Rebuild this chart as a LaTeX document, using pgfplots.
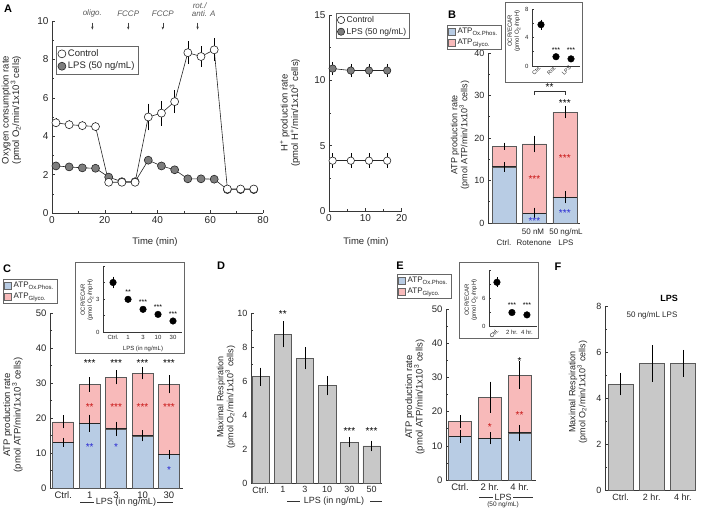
\documentclass[border=0pt]{standalone}
\usepackage{fontspec}
\setmainfont{Liberation Sans}
\usepackage{pgfplots}
\pgfplotsset{compat=1.18}
\usetikzlibrary{arrows.meta}
\definecolor{cblue}{RGB}{184,204,228}
\definecolor{cpink}{RGB}{248,186,186}
\definecolor{cgray}{RGB}{200,200,200}
\definecolor{sred}{RGB}{200,20,20}
\definecolor{sblue}{RGB}{40,40,210}
\definecolor{ldark}{RGB}{55,55,55}
\definecolor{mgray}{RGB}{125,125,125}
\newcommand{\fs}[1]{\fontsize{#1}{#1}\selectfont}
\pgfplotsset{
  base/.style={scale only axis, anchor=south west, clip=false,
    axis x line*=bottom, axis y line*=left,
    axis line style={ldark, line width=0.7pt},
    tick style={ldark, line width=0.5pt},
    tick align=inside, major tick length=3pt, minor tick length=2pt,
    ticklabel style={font=\fs{9}, text=black!85},
    /pgf/number format/assume math mode=true},
  bars/.style={ybar, bar shift=0pt, bar width=#1, draw=black!65, line width=0.6pt, forget plot},
  errs/.style={draw=none, mark=none, forget plot,
    error bars/.cd, y dir=both, y explicit,
    error bar style={draw=black, solid, line width=0.5pt},
    error mark options={draw=black, solid, line width=0.5pt, mark size=#1}},
  errs/.default=2pt,
}
\begin{document}
\begin{tikzpicture}
\path[use as bounding box] (0,0) rectangle (709pt,510pt);

% ================= Panel A =================
\begin{axis}[base, at={(52pt,297pt)}, width=211pt, height=192pt,
  xmin=0, xmax=80, ymin=0, ymax=10,
  xtick={0,20,...,80}, minor x tick num=1,
  ytick={0,2,...,10}, minor y tick num=1,
  ticklabel style={font=\fs{10}},
  legend style={at={(0.02,0.87)}, anchor=north west, draw=black!60, font=\fs{9.5}, inner sep=1.5pt, row sep=0pt, legend cell align=left, text=black!85}]
\addlegendimage{only marks, mark=*, mark size=4pt, mark options={fill=white, draw=black!85, line width=0.6pt}}
\addlegendentry{Control}
\addlegendimage{only marks, mark=*, mark size=4pt, mark options={fill=mgray, draw=black!85, line width=0.6pt}}
\addlegendentry{LPS (50 ng/mL)}
\addplot[black!85, line width=0.6pt, mark=*, mark size=4pt, mark options={fill=mgray}, forget plot] coordinates {
(1.5,2.45)(6.5,2.4)(11.5,2.35)(16.5,2.33)(21.5,1.87)(26.5,1.63)(31.5,1.63)(36.5,2.75)(41.5,2.45)(46.5,2.25)(51.5,1.78)(56.5,1.78)(61.5,1.76)(66.5,1.22)(71.5,1.22)(76.5,1.22)};
\addplot[black!85, line width=0.6pt, mark=*, mark size=4pt, mark options={fill=white}, forget plot] coordinates {
(1.5,4.7)(6.5,4.6)(11.5,4.55)(16.5,4.5)(21.5,1.6)(26.5,1.6)(31.5,1.6)(36.5,5.0)(41.5,5.2)(46.5,5.8)(51.5,8.35)(56.5,8.15)(61.5,8.5)(66.5,1.25)(71.5,1.25)(76.5,1.25)};
\addplot[errs=1.8pt] coordinates {
(1.5,2.45)+-(0,0.12)(6.5,2.4)+-(0,0.1)(11.5,2.35)+-(0,0.1)(16.5,2.33)+-(0,0.1)(21.5,1.87)+-(0,0.1)(36.5,2.75)+-(0,0.12)(41.5,2.45)+-(0,0.12)(46.5,2.25)+-(0,0.1)(51.5,1.78)+-(0,0.1)(56.5,1.78)+-(0,0.1)(61.5,1.76)+-(0,0.1)};
\addplot[errs=1.8pt] coordinates {
(1.5,4.7)+-(0,0.15)(6.5,4.6)+-(0,0.15)(11.5,4.55)+-(0,0.15)(16.5,4.5)+-(0,0.15)(21.5,1.6)+-(0,0.1)(26.5,1.6)+-(0,0.08)(31.5,1.6)+-(0,0.08)(36.5,5.0)+-(0,0.6)(41.5,5.2)+-(0,0.55)(46.5,5.8)+-(0,0.5)(51.5,8.35)+-(0,0.5)(56.5,8.15)+-(0,0.45)(61.5,8.5)+-(0,0.5)(66.5,1.25)+-(0,0.1)(71.5,1.25)+-(0,0.1)(76.5,1.25)+-(0,0.1)};
\draw[black!75, line width=0.5pt, -{Stealth[length=3pt,width=2.4pt]}] (axis cs:15.3,9.92) -- (axis cs:15.3,9.55);
\draw[black!75, line width=0.5pt, -{Stealth[length=3pt,width=2.4pt]}] (axis cs:28.9,9.92) -- (axis cs:28.9,9.55);
\draw[black!75, line width=0.5pt, -{Stealth[length=3pt,width=2.4pt]}] (axis cs:42,9.92) -- (axis cs:42,9.55);
\draw[black!75, line width=0.5pt, -{Stealth[length=3pt,width=2.4pt]}] (axis cs:55.2,9.92) -- (axis cs:55.2,9.55);
\node[font=\itshape\fs{8}, text=black!65] at (axis cs:15.3,10.38) {oligo.};
\node[font=\itshape\fs{8}, text=black!65] at (axis cs:28.9,10.38) {FCCP};
\node[font=\itshape\fs{8}, text=black!65] at (axis cs:42,10.38) {FCCP};
\node[font=\itshape\fs{8}, text=black!65] at (axis cs:57.5,10.38) {anti. A};
\node[font=\itshape\fs{8}, text=black!65] at (axis cs:56,10.78) {rot./};
\end{axis}

% ================= Panel A right: H+ =================
\begin{axis}[base, at={(329pt,299pt)}, width=72.7pt, height=196pt,
  xmin=0, xmax=20, ymin=0, ymax=15,
  xtick={0,10,20}, minor x tick num=1,
  ytick={0,5,10,15}, minor y tick num=1,
  ticklabel style={font=\fs{10}},
  legend style={at={(0.1,1.01)}, anchor=north west, draw=black!60, font=\fs{8.5}, inner sep=1pt, row sep=0pt, legend cell align=left, text=black!85}]
\addlegendimage{only marks, mark=*, mark size=3.6pt, mark options={fill=white, draw=black!85, line width=0.6pt}}
\addlegendentry{Control}
\addlegendimage{only marks, mark=*, mark size=3.6pt, mark options={fill=mgray, draw=black!85, line width=0.6pt}}
\addlegendentry{LPS (50 ng/mL)}
\addplot[black!85, line width=0.6pt, mark=*, mark size=3.7pt, mark options={fill=mgray}, forget plot] coordinates {(1,10.9)(6,10.75)(11,10.75)(16,10.75)};
\addplot[black!85, line width=0.6pt, mark=*, mark size=3.7pt, mark options={fill=white}, forget plot] coordinates {(1,3.85)(6,3.85)(11,3.85)(16,3.85)};
\addplot[errs=2pt] coordinates {(1,10.9)+-(0,0.35)(6,10.75)+-(0,0.35)(11,10.75)+-(0,0.35)(16,10.75)+-(0,0.35)};
\addplot[errs=2pt] coordinates {(1,3.85)+-(0,0.4)(6,3.85)+-(0,0.4)(11,3.85)+-(0,0.4)(16,3.85)+-(0,0.4)};
\end{axis}

% ================= Panel B =================
\begin{axis}[base, at={(488pt,287pt)}, width=92pt, height=170pt,
  xmin=-0.527, xmax=2.5, ymin=0, ymax=40,
  xtick=\empty, ytick={0,10,...,40}, minor y tick num=1,
  legend style={at={(-0.446,1.165)}, anchor=north west, draw=black!60, font=\fs{8}, inner sep=1pt, row sep=0pt, legend cell align=left, text=black!85},
  legend image code/.code={\draw[#1] (0pt,-3.5pt) rectangle (7pt,3.5pt);}]
\addlegendimage{fill=cblue, draw=black!60}
\addlegendentry{ATP\textsubscript{Ox.Phos.}}
\addlegendimage{fill=cpink, draw=black!60}
\addlegendentry{ATP\textsubscript{Glyco.}}
\addplot[bars=24pt, fill=cpink] coordinates {(0,18.1)(1,18.6)(2,26.1)};
\addplot[bars=24pt, fill=cblue] coordinates {(0,13.2)(1,2.35)(2,6.1)};
\draw[black!85, line width=1pt] (axis cs:-0.39,13.2) -- (axis cs:0.39,13.2) (axis cs:0.61,2.35) -- (axis cs:1.39,2.35) (axis cs:1.61,6.1) -- (axis cs:2.39,6.1);
\addplot[errs] coordinates {(0,18.1)+-(0,0.35)(1,18.6)+-(0,1.5)(2,26.1)+-(0,1.0)(0,13.2)+-(0,0.7)(1,2.35)+-(0,0.8)(2,6.1)+-(0,1.0)};
\node[font=\fs{10}, text=sred] at (axis cs:1,10.4) {***};
\node[font=\fs{10}, text=sred] at (axis cs:2,15.3) {***};
\node[font=\fs{10}, text=sblue] at (axis cs:1,0.5) {***};
\node[font=\fs{10}, text=sblue] at (axis cs:2,2.4) {***};
\node[font=\fs{10}] at (axis cs:2,28.3) {***};
\draw[black!80, line width=0.5pt] (axis cs:1,30.1) -- (axis cs:1,31) -- (axis cs:2,31) -- (axis cs:2,30.1);
\node[font=\fs{10}] at (axis cs:1.5,32.0) {**};
\end{axis}

% ---- inset B
\draw[black!60, line width=0.8pt, fill=white] (505pt,508pt) rectangle (582pt,428pt);
\begin{axis}[base, at={(532pt,444pt)}, width=48pt, height=57pt,
  xmin=-0.6, xmax=2.6, ymin=0, ymax=8,
  ytick={0,4,8}, minor y tick num=1,
  xtick={0,1,2}, xticklabels={Ctrl.,Rot.,LPS}, xtick style={draw=none},
  ticklabel style={font=\fs{6}}, xticklabel style={font=\fs{5.5}, rotate=45, anchor=east, inner sep=1pt},
  major tick length=2pt, minor tick length=1.5pt]
\addplot[black, only marks, mark=*, mark size=3.3pt, forget plot] coordinates {(0,5.8)(1,1.3)(2,1.0)};
\addplot[errs=1.5pt] coordinates {(0,5.8)+-(0,0.5)(1,1.3)+-(0,0.2)(2,1.0)+-(0,0.2)};
\node[font=\fs{7}] at (axis cs:1,2.2) {***};
\node[font=\fs{7}] at (axis cs:2,2.2) {***};
\end{axis}

% ================= Panel C =================
\begin{axis}[base, at={(50pt,22pt)}, width=133pt, height=175pt,
  xmin=-0.5, xmax=4.53, ymin=0, ymax=50,
  xtick={0,...,4}, xticklabels={Ctrl.,1,3,10,30}, xtick style={draw=none},
  ytick={0,10,...,50}, minor y tick num=1,
  ticklabel style={font=\fs{9.5}},
  legend style={at={(-0.353,1.194)}, anchor=north west, draw=black!60, font=\fs{8}, inner sep=1pt, row sep=0pt, legend cell align=left, text=black!85},
  legend image code/.code={\draw[#1] (0pt,-3.5pt) rectangle (7pt,3.5pt);}]
\addlegendimage{fill=cblue, draw=black!60}
\addlegendentry{ATP\textsubscript{Ox.Phos.}}
\addlegendimage{fill=cpink, draw=black!60}
\addlegendentry{ATP\textsubscript{Glyco.}}
\addplot[bars=21pt, fill=cpink] coordinates {(0,18.9)(1,29.6)(2,31.6)(3,32.8)(4,29.6)};
\addplot[bars=21pt, fill=cblue] coordinates {(0,13.05)(1,18.5)(2,16.9)(3,14.9)(4,9.6)};
\draw[black!85, line width=1pt] (axis cs:-0.4,13.05) -- (axis cs:0.4,13.05) (axis cs:0.6,18.5) -- (axis cs:1.4,18.5) (axis cs:1.6,16.9) -- (axis cs:2.4,16.9) (axis cs:2.6,14.9) -- (axis cs:3.4,14.9) (axis cs:3.6,9.6) -- (axis cs:4.4,9.6);
\addplot[errs] coordinates {(0,18.9)+-(0,1.3)(1,29.6)+-(0,1.5)(2,31.6)+-(0,1.4)(3,32.8)+-(0,1.2)(4,29.6)+-(0,2.0)
 (0,13.05)+-(0,0.7)(1,18.5)+-(0,1.9)(2,16.9)+-(0,1.5)(3,14.9)+-(0,1.0)(4,9.6)+-(0,0.7)};
\node[font=\fs{10}] at (axis cs:1,35.6) {***};
\node[font=\fs{10}] at (axis cs:2,35.6) {***};
\node[font=\fs{10}] at (axis cs:3,35.6) {***};
\node[font=\fs{10}] at (axis cs:4,35.6) {***};
\node[font=\fs{10}, text=sred] at (axis cs:1,23.0) {**};
\node[font=\fs{10}, text=sred] at (axis cs:2,23.0) {***};
\node[font=\fs{10}, text=sred] at (axis cs:3,23.0) {***};
\node[font=\fs{10}, text=sred] at (axis cs:4,23.0) {***};
\node[font=\fs{10}, text=sblue] at (axis cs:1,11.6) {**};
\node[font=\fs{10}, text=sblue] at (axis cs:2,11.6) {*};
\node[font=\fs{10}, text=sblue] at (axis cs:4,5.0) {*};
\end{axis}

% ---- inset C
\draw[black!60, line width=0.8pt, fill=white] (75pt,248pt) rectangle (184pt,157pt);
\begin{axis}[base, at={(103pt,178pt)}, width=79pt, height=66pt,
  xmin=-0.67, xmax=4.6, ymin=0, ymax=6,
  ytick={0,3,6}, yticklabels={0,3,{}}, minor y tick num=1,
  xtick={0,...,4}, xticklabels={Ctrl.,1,3,10,30}, xtick style={draw=none},
  ticklabel style={font=\fs{6}},
  major tick length=2pt, minor tick length=1.5pt]
\addplot[black, only marks, mark=*, mark size=3.3pt, forget plot] coordinates {(0,4.5)(1,2.97)(2,2.06)(3,1.6)(4,1.0)};
\addplot[errs=1.5pt] coordinates {(0,4.5)+-(0,0.4)};
\node[font=\fs{7}] at (axis cs:1,3.6) {**};
\node[font=\fs{7}] at (axis cs:2,2.7) {***};
\node[font=\fs{7}] at (axis cs:3,2.25) {***};
\node[font=\fs{7}] at (axis cs:4,1.65) {***};
\end{axis}

% ================= Panel D =================
\begin{axis}[base, at={(251pt,27pt)}, width=131pt, height=170pt,
  xmin=-0.43, xmax=5.47, ymin=0, ymax=10,
  xtick={0,...,5}, xticklabels={Ctrl.,1,3,10,30,50}, xtick style={draw=none},
  ytick={0,2,...,10}, minor y tick num=1,
  ticklabel style={font=\fs{9}}]
\addplot[bars=17.5pt, fill=cgray] coordinates {(0,6.25)(1,8.75)(2,7.33)(3,5.73)(4,2.4)(5,2.18)};
\addplot[errs] coordinates {(0,6.25)+-(0,0.42)(1,8.75)+-(0,0.65)(2,7.33)+-(0,0.53)(3,5.73)+-(0,0.46)(4,2.4)+-(0,0.19)(5,2.18)+-(0,0.2)};
\node[font=\fs{10}] at (axis cs:1,9.95) {**};
\node[font=\fs{10}] at (axis cs:4,3.05) {***};
\node[font=\fs{10}] at (axis cs:5,3.05) {***};
\end{axis}

% ================= Panel E =================
\begin{axis}[base, at={(446pt,30pt)}, width=89.7pt, height=171pt,
  xmin=-0.47, xmax=2.54, ymin=0, ymax=50,
  xtick={0,1,2}, xticklabels={Ctrl.,2 hr.,4 hr.}, xtick style={draw=none},
  ytick={0,10,...,50}, minor y tick num=1,
  ticklabel style={font=\fs{9.5}},
  legend style={at={(-0.546,1.205)}, anchor=north west, draw=black!60, font=\fs{8}, inner sep=1pt, row sep=0pt, legend cell align=left, text=black!85},
  legend image code/.code={\draw[#1] (0pt,-3.5pt) rectangle (7pt,3.5pt);}]
\addlegendimage{fill=cblue, draw=black!60}
\addlegendentry{ATP\textsubscript{Ox.Phos.}}
\addlegendimage{fill=cpink, draw=black!60}
\addlegendentry{ATP\textsubscript{Glyco.}}
\addplot[bars=23pt, fill=cpink] coordinates {(0,17.1)(1,24.2)(2,30.7)};
\addplot[bars=23pt, fill=cblue] coordinates {(0,12.7)(1,12.2)(2,13.8)};
\draw[black!85, line width=1pt] (axis cs:-0.38,12.7) -- (axis cs:0.38,12.7) (axis cs:0.62,12.2) -- (axis cs:1.38,12.2) (axis cs:1.62,13.8) -- (axis cs:2.38,13.8);
\addplot[errs] coordinates {(0,17.1)+-(0,1.3)(1,24.2)+-(0,4.0)(2,30.7)+-(0,3.4)(0,12.7)+-(0,1.2)(1,12.2)+-(0,1.2)(2,13.8)+-(0,1.7)};
\node[font=\fs{10}] at (axis cs:2,34.8) {*};
\node[font=\fs{10}, text=sred] at (axis cs:1,15.4) {*};
\node[font=\fs{10}, text=sred] at (axis cs:2,19.1) {**};
\end{axis}

% ---- inset E
\draw[black!60, line width=0.8pt, fill=white] (459pt,248pt) rectangle (538pt,172pt);
\begin{axis}[base, at={(489pt,183.3pt)}, width=48pt, height=56.7pt,
  xmin=-0.53, xmax=2.67, ymin=0, ymax=12,
  ytick={0,6,12}, yticklabels={0,6,{}}, minor y tick num=1,
  xtick={0,1,2}, xticklabels={{},2 hr.,4 hr.}, xtick style={draw=none},
  ticklabel style={font=\fs{6}},
  major tick length=2pt, minor tick length=1.5pt]
\addplot[black, only marks, mark=*, mark size=3.3pt, forget plot] coordinates {(0,9.4)(1,3.0)(2,2.5)};
\addplot[errs=1.5pt] coordinates {(0,9.4)+-(0,0.7)};
\node[font=\fs{7}] at (axis cs:1,4.6) {***};
\node[font=\fs{7}] at (axis cs:2,4.6) {***};
\node[font=\fs{5.5}, rotate=45, anchor=east, inner sep=1pt] at (axis cs:0.1,-0.5) {Ctrl.};
\end{axis}

% ================= Panel F =================
\begin{axis}[base, at={(605pt,20pt)}, width=91pt, height=184pt,
  xmin=-0.5, xmax=2.42, ymin=0, ymax=8,
  xtick={0,1,2}, xticklabels={Ctrl.,2 hr.,4 hr.}, xtick style={draw=none},
  ytick={0,2,...,8}, minor y tick num=1,
  ticklabel style={font=\fs{9}}]
\addplot[bars=24.5pt, fill=cgray] coordinates {(0,4.6)(1,5.5)(2,5.5)};
\addplot[errs] coordinates {(0,4.6)+-(0,0.4)(1,5.5)+-(0,0.7)(2,5.5)+-(0,0.5)};
\end{axis}

% ================= Labels =================
\begin{scope}[every node/.style={text=black!85}]
\node[font=\bfseries\fs{11}, text=black] at (8pt,501pt) {A};
\node[font=\bfseries\fs{11}, text=black] at (452pt,495pt) {B};
\node[font=\bfseries\fs{11}, text=black] at (7pt,241pt) {C};
\node[font=\bfseries\fs{11}, text=black] at (221pt,244pt) {D};
\node[font=\bfseries\fs{11}, text=black] at (400pt,244pt) {E};
\node[font=\bfseries\fs{11}, text=black] at (558pt,243pt) {F};

\node[rotate=90, align=center, font=\fontsize{9.5}{10.5}\selectfont] at (11.5pt,400pt) {Oxygen consumption rate\\(pmol O\textsubscript{2}/min/1x10\textsuperscript{3} cells)};
\node[font=\fs{9.5}] at (155pt,268pt) {Time (min)};

\node[rotate=90, align=center, font=\fontsize{9.5}{10.5}\selectfont] at (290pt,397pt) {H\textsuperscript{+} production rate\\(pmol H\textsuperscript{+}/min/1x10\textsuperscript{3} cells)};
\node[font=\fs{9.5}] at (366pt,268pt) {Time (min)};

\node[rotate=90, align=center, font=\fontsize{9}{10}\selectfont] at (460pt,375pt) {ATP production rate\\(pmol ATP/min/1x10\textsuperscript{3} cells)};
\node[font=\fs{8}] at (504pt,267pt) {Ctrl.};
\node[font=\fs{8}] at (533pt,278pt) {50 nM};
\node[font=\fs{8}] at (534pt,267pt) {Rotenone};
\node[font=\fs{8}] at (566pt,278pt) {50 ng/mL};
\node[font=\fs{8}] at (566pt,267pt) {LPS};
\node[rotate=90, align=center, font=\fontsize{6}{7}\selectfont] at (514pt,479pt) {OCR/ECAR\\(pmol O\textsubscript{2}/mpH)};

\node[rotate=90, align=center, font=\fontsize{9.5}{10.5}\selectfont] at (13pt,95pt) {ATP production rate\\(pmol ATP/min/1x10\textsuperscript{3} cells)};
\node[font=\fs{9}] (cl) at (126pt,8pt) {LPS (in ng/mL)};
\draw[black!80, line width=0.5pt] (80pt,8pt) -- (94pt,8pt) (157pt,8pt) -- (173pt,8pt);
\node[rotate=90, align=center, font=\fontsize{6}{7}\selectfont] at (87pt,210pt) {OCR/ECAR\\(pmol O\textsubscript{2}/mpH)};
\node[font=\fs{6}] at (143pt,161pt) {LPS (in ng/mL)};

\node[rotate=90, align=center, font=\fontsize{9}{10}\selectfont] at (226pt,113pt) {Maximal Respiration\\(pmol O\textsubscript{2}/min/1x10\textsuperscript{3} cells)};
\node[font=\fs{9}] at (334pt,9pt) {LPS (in ng/mL)};
\draw[black!80, line width=0.5pt] (287pt,9pt) -- (300pt,9pt) (370pt,9pt) -- (382pt,9pt);

\node[rotate=90, align=center, font=\fontsize{9.5}{10.5}\selectfont] at (415pt,113pt) {ATP production rate\\(pmol ATP/min/1x10\textsuperscript{3} cells)};
\node[font=\fs{9}] at (503pt,13pt) {LPS};
\draw[black!80, line width=0.5pt] (479pt,13pt) -- (493pt,13pt) (513pt,13pt) -- (533pt,13pt);
\node[font=\fs{6.5}] at (503pt,5pt) {(50 ng/mL)};
\node[rotate=90, align=center, font=\fontsize{6}{7}\selectfont] at (471pt,210pt) {OCR/ECAR\\(pmol O\textsubscript{2}/mpH)};

\node[rotate=90, align=center, font=\fontsize{9}{10}\selectfont] at (578pt,118pt) {Maximal Respiration\\(pmol O\textsubscript{2}/min/1x10\textsuperscript{3} cells)};
\node[font=\bfseries\fs{9}, text=black] at (669pt,212pt) {LPS};
\node[font=\fs{8}] at (652pt,195pt) {50 ng/mL LPS};
\end{scope}
\end{tikzpicture}
\end{document}
